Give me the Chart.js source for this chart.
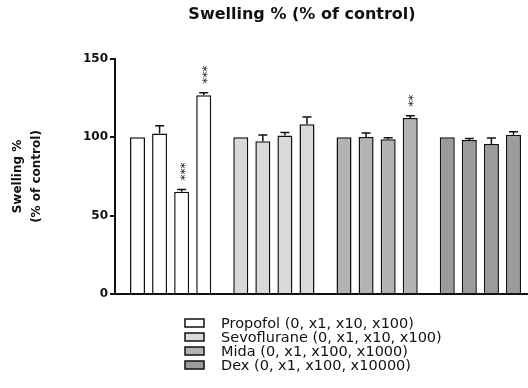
<!DOCTYPE html>
<html>
<head>
<meta charset="utf-8">
<script src="https://cdn.jsdelivr.net/npm/chart.js@4"></script>
<style>
  body { margin: 0; background: #fff; }
  #wrap { width: 528px; height: 388px; }
</style>
</head>
<body>
<div id="wrap"><canvas id="swellingChart"></canvas></div>
<script>
// legend / group names
const drugs = [
  'Propofol (0, x1, x10, x100)',
  'Sevoflurane (0, x1, x10, x100)',
  'Mida (0, x1, x100, x1000)',
  'Dex (0, x1, x100, x10000)'
];
const drugColors = ['#ffffff', '#d9d9d9', '#b3b3b3', '#9b9b9b'];

// swelling % of control, one value per dose (0, low, mid, high)
const propofol = [100, 102.4, 65.2, 126.8];
const sevoflurane = [100, 97.5, 101.1, 108.3];
const mida = [100, 100.2, 98.7, 112.3];
const dex = [100, 98.3, 95.7, 101.7];

// SEM (upper error bar only)
const propofolErr = [0, 5, 1.5, 1.7];
const sevofluraneErr = [0, 4, 2, 4.6];
const midaErr = [0, 2.6, 1, 1.5];
const dexErr = [0, 1, 3.9, 1.9];

// significance marks
const propofolSig = ['', '', '***', '***'];
const sevofluraneSig = ['', '', '', ''];
const midaSig = ['', '', '', '**'];
const dexSig = ['', '', '', ''];

const yTicks = [0, 50, 100, 150];

const values = [propofol, sevoflurane, mida, dex];
const errors = [propofolErr, sevofluraneErr, midaErr, dexErr];
const sigs = [propofolSig, sevofluraneSig, midaSig, dexSig];

Chart.defaults.font.family = "'DejaVu Sans', sans-serif";
Chart.defaults.color = '#111';

// one dataset per dose level, grouped under each drug
const datasets = [0, 1, 2, 3].map(d => ({
  label: 'dose ' + d,
  data: values.map(v => v[d]),
  backgroundColor: drugColors,
  borderColor: '#111',
  borderWidth: 1.5,
  categoryPercentage: 0.855,
  barPercentage: 0.68
}));

// nudge the category start a little off the y axis, like the original
const shiftPlugin = {
  id: 'shift',
  afterLayout(chart) {
    const x = chart.scales.x;
    x._startPixel += 4;
  }
};

const errorBarPlugin = {
  id: 'errorBars',
  afterDatasetsDraw(chart) {
    const ctx = chart.ctx;
    const y = chart.scales.y;
    ctx.save();
    ctx.strokeStyle = '#111';
    ctx.fillStyle = '#111';
    ctx.lineWidth = 1.5;
    chart.data.datasets.forEach((ds, d) => {
      const meta = chart.getDatasetMeta(d);
      meta.data.forEach((bar, g) => {
        const err = errors[g][d];
        let top = bar.y;
        if (err > 0) {
          top = y.getPixelForValue(values[g][d] + err);
          ctx.beginPath();
          ctx.moveTo(bar.x, bar.y);
          ctx.lineTo(bar.x, top);
          ctx.moveTo(bar.x - 4.5, top);
          ctx.lineTo(bar.x + 4.5, top);
          ctx.stroke();
        }
        const mark = sigs[g][d];
        if (mark) {
          ctx.save();
          ctx.translate(bar.x, top - 9);
          ctx.rotate(-Math.PI / 2);
          ctx.font = "12px 'DejaVu Sans'";
          ctx.textAlign = 'left';
          ctx.textBaseline = 'alphabetic';
          ctx.fillText(mark, 0, 7);
          ctx.restore();
        }
      });
    });
    ctx.restore();
  }
};

const titleLegendPlugin = {
  id: 'titleLegend',
  afterDraw(chart) {
    const ctx = chart.ctx;
    ctx.save();
    ctx.fillStyle = '#111';
    ctx.font = "bold 16px 'DejaVu Sans'";
    ctx.textAlign = 'center';
    ctx.textBaseline = 'alphabetic';
    ctx.fillText('Swelling % (% of control)', 302, 19);

    ctx.font = "14.5px 'DejaVu Sans'";
    ctx.textAlign = 'left';
    ctx.textBaseline = 'middle';
    drugs.forEach((name, i) => {
      const top = 319 + i * 14;
      ctx.fillStyle = drugColors[i];
      ctx.fillRect(185, top, 19, 8);
      ctx.strokeStyle = '#111';
      ctx.lineWidth = 1.5;
      ctx.strokeRect(185, top, 19, 8);
      ctx.fillStyle = '#111';
      ctx.fillText(name, 221, top + 5);
    });
    ctx.restore();
  }
};

new Chart(document.getElementById('swellingChart'), {
  type: 'bar',
  data: {
    labels: drugs,
    datasets: datasets
  },
  options: {
    responsive: true,
    maintainAspectRatio: false,
    animation: false,
    layout: {
      padding: { top: 59, right: 0, bottom: 94, left: 0 }
    },
    plugins: {
      legend: { display: false },
      tooltip: { enabled: false }
    },
    scales: {
      x: {
        grid: { display: false, drawTicks: false },
        ticks: { display: false },
        border: { display: true, color: '#111', width: 2 },
        afterFit(scale) { scale.height = 0; }
      },
      y: {
        min: 0,
        max: 150,
        afterBuildTicks(scale) {
          scale.ticks = yTicks.map(v => ({ value: v }));
        },
        ticks: {
          color: '#111',
          padding: 2,
          font: { size: 12, weight: 'bold' }
        },
        grid: {
          drawOnChartArea: false,
          color: '#111',
          lineWidth: 2,
          tickLength: 5
        },
        border: { display: true, color: '#111', width: 2 },
        title: {
          display: true,
          text: ['Swelling %', '(% of control)'],
          color: '#111',
          font: { size: 12, weight: 'bold', lineHeight: 1.6 },
          padding: { top: 8, bottom: 0 }
        },
        afterFit(scale) { scale.width = 115; }
      }
    }
  },
  plugins: [shiftPlugin, errorBarPlugin, titleLegendPlugin]
});
</script>
</body>
</html>
